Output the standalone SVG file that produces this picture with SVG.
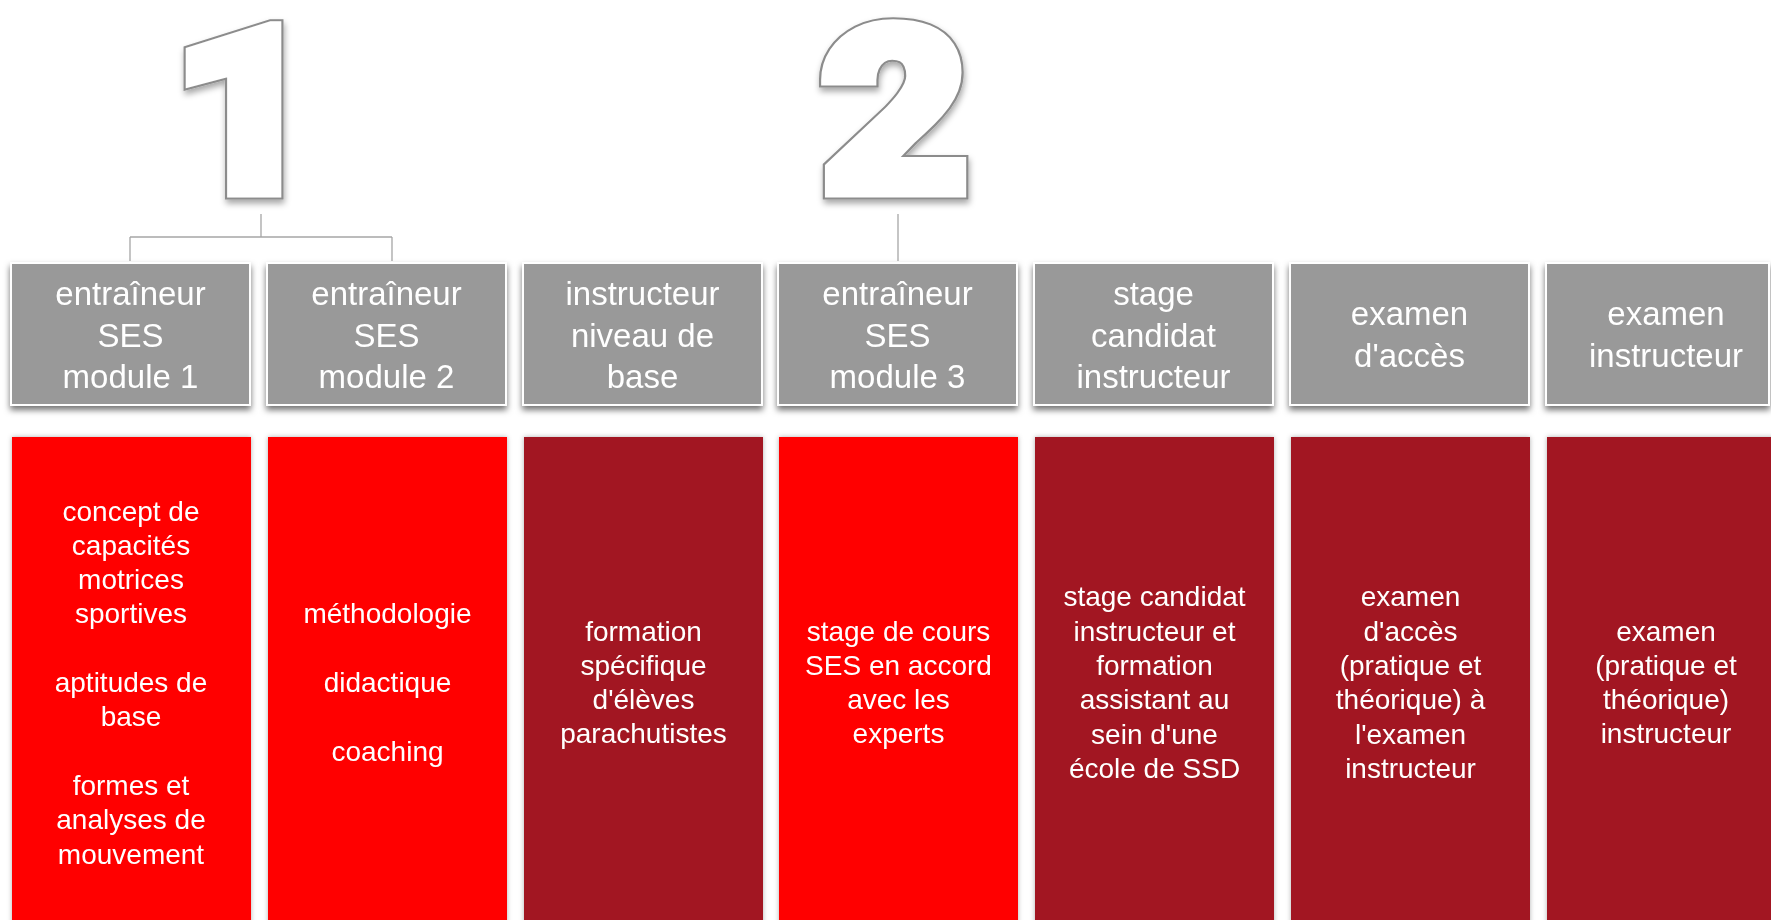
<svg xmlns="http://www.w3.org/2000/svg" width="1771" height="920" viewBox="0 0 1771 920">
<defs>
<style>
.hdr{fill:#999999;stroke:#ffffff;stroke-width:2}
.hdrtxt{font-family:"Liberation Sans",Arial,sans-serif;font-size:33px;fill:#ffffff;text-anchor:middle}
.bodytxt{font-family:"Liberation Sans",Arial,sans-serif;font-size:28px;fill:#ffffff;text-anchor:middle}
.red{fill:#ff0000}
.dark{fill:#a21921}
.conn{fill:none;stroke:#a6a6a6;stroke-width:1.3}
.dg-o{font-family:Roboto,"Liberation Sans",sans-serif;font-weight:900;font-size:232px;text-anchor:middle;fill:#8c8c8c;stroke:#8c8c8c;stroke-width:15;stroke-linejoin:miter}
.dg-i{font-family:Roboto,"Liberation Sans",sans-serif;font-weight:900;font-size:232px;text-anchor:middle;fill:#ffffff;stroke:#ffffff;stroke-width:11;stroke-linejoin:miter}
</style>
<filter id="hshadow" x="-10%" y="-10%" width="120%" height="130%">
<feDropShadow dx="0" dy="4" stdDeviation="3" flood-color="#000" flood-opacity="0.55"/>
</filter>
<filter id="rshadow" x="-10%" y="-10%" width="120%" height="120%">
<feDropShadow dx="0" dy="0" stdDeviation="2.5" flood-color="#000" flood-opacity="0.3"/>
</filter>
<filter id="dshadow" x="-30%" y="-30%" width="160%" height="160%">
<feDropShadow dx="1" dy="4" stdDeviation="3" flood-color="#000" flood-opacity="0.35"/>
</filter>
</defs>
<rect width="1771" height="920" fill="#ffffff"/>

<g id="digit1" filter="url(#dshadow)">
<g transform="translate(245,192) scale(1.1,1)">
<text class="dg-o" x="0" y="0">1</text>
<text class="dg-i" x="0" y="0">1</text>
</g>
</g>
<g id="digit2" filter="url(#dshadow)">
<g transform="translate(895,192) scale(1.12,1)">
<text class="dg-o" x="0" y="0">2</text>
<text class="dg-i" x="0" y="0">2</text>
</g>
</g>

<g id="connectors">
<path class="conn" d="M261,214 V237 M130,237 H392 M130,237 V261 M392,237 V261"/>
<path class="conn" d="M898,214 V261"/>
</g>

<g id="h1" filter="url(#hshadow)"><rect class="hdr" x="11" y="263" width="239" height="142"/>
<text class="hdrtxt" x="130.5" y="305">entraîneur<tspan x="130.5" dy="41.5">SES</tspan><tspan x="130.5" dy="41.5">module 1</tspan></text></g>
<g id="h2" filter="url(#hshadow)"><rect class="hdr" x="267" y="263" width="239" height="142"/>
<text class="hdrtxt" x="386.5" y="305">entraîneur<tspan x="386.5" dy="41.5">SES</tspan><tspan x="386.5" dy="41.5">module 2</tspan></text></g>
<g id="h3" filter="url(#hshadow)"><rect class="hdr" x="523" y="263" width="239" height="142"/>
<text class="hdrtxt" x="642.5" y="305">instructeur<tspan x="642.5" dy="41.5">niveau de</tspan><tspan x="642.5" dy="41.5">base</tspan></text></g>
<g id="h4" filter="url(#hshadow)"><rect class="hdr" x="778" y="263" width="239" height="142"/>
<text class="hdrtxt" x="897.5" y="305">entraîneur<tspan x="897.5" dy="41.5">SES</tspan><tspan x="897.5" dy="41.5">module 3</tspan></text></g>
<g id="h5" filter="url(#hshadow)"><rect class="hdr" x="1034" y="263" width="239" height="142"/>
<text class="hdrtxt" x="1153.5" y="305">stage<tspan x="1153.5" dy="41.5">candidat</tspan><tspan x="1153.5" dy="41.5">instructeur</tspan></text></g>
<g id="h6" filter="url(#hshadow)"><rect class="hdr" x="1290" y="263" width="239" height="142"/>
<text class="hdrtxt" x="1409.5" y="325">examen<tspan x="1409.5" dy="41.5">d'accès</tspan></text></g>
<g id="h7" filter="url(#hshadow)"><rect class="hdr" x="1546" y="263" width="223" height="142"/>
<text class="hdrtxt" x="1666" y="325">examen<tspan x="1666" dy="41.5">instructeur</tspan></text></g>

<g id="b1" filter="url(#rshadow)"><rect class="red" x="12" y="437" width="239" height="500"/>
<text class="bodytxt" x="131" y="520.5">concept de<tspan x="131" dy="34.3">capacités</tspan><tspan x="131" dy="34.3">motrices</tspan><tspan x="131" dy="34.3">sportives</tspan><tspan x="131" dy="68.6">aptitudes de</tspan><tspan x="131" dy="34.3">base</tspan><tspan x="131" dy="68.6">formes et</tspan><tspan x="131" dy="34.3">analyses de</tspan><tspan x="131" dy="34.3">mouvement</tspan></text></g>
<g id="b2" filter="url(#rshadow)"><rect class="red" x="268" y="437" width="239" height="500"/>
<text class="bodytxt" x="387.5" y="623.4">méthodologie<tspan x="387.5" dy="68.6">didactique</tspan><tspan x="387.5" dy="68.6">coaching</tspan></text></g>
<g id="b3" filter="url(#rshadow)"><rect class="dark" x="524" y="437" width="239" height="500"/>
<text class="bodytxt" x="643.5" y="640.5">formation<tspan x="643.5" dy="34.3">spécifique</tspan><tspan x="643.5" dy="34.3">d'élèves</tspan><tspan x="643.5" dy="34.3">parachutistes</tspan></text></g>
<g id="b4" filter="url(#rshadow)"><rect class="red" x="779" y="437" width="239" height="500"/>
<text class="bodytxt" x="898.5" y="640.5">stage de cours<tspan x="898.5" dy="34.3">SES en accord</tspan><tspan x="898.5" dy="34.3">avec les</tspan><tspan x="898.5" dy="34.3">experts</tspan></text></g>
<g id="b5" filter="url(#rshadow)"><rect class="dark" x="1035" y="437" width="239" height="500"/>
<text class="bodytxt" x="1154.5" y="606.3">stage candidat<tspan x="1154.5" dy="34.3">instructeur et</tspan><tspan x="1154.5" dy="34.3">formation</tspan><tspan x="1154.5" dy="34.3">assistant au</tspan><tspan x="1154.5" dy="34.3">sein d'une</tspan><tspan x="1154.5" dy="34.3">école de SSD</tspan></text></g>
<g id="b6" filter="url(#rshadow)"><rect class="dark" x="1291" y="437" width="239" height="500"/>
<text class="bodytxt" x="1410.5" y="606.3">examen<tspan x="1410.5" dy="34.3">d'accès</tspan><tspan x="1410.5" dy="34.3">(pratique et</tspan><tspan x="1410.5" dy="34.3">théorique) à</tspan><tspan x="1410.5" dy="34.3">l'examen</tspan><tspan x="1410.5" dy="34.3">instructeur</tspan></text></g>
<g id="b7" filter="url(#rshadow)"><rect class="dark" x="1547" y="437" width="240" height="500"/>
<text class="bodytxt" x="1666" y="640.5">examen<tspan x="1666" dy="34.3">(pratique et</tspan><tspan x="1666" dy="34.3">théorique)</tspan><tspan x="1666" dy="34.3">instructeur</tspan></text></g>
</svg>
